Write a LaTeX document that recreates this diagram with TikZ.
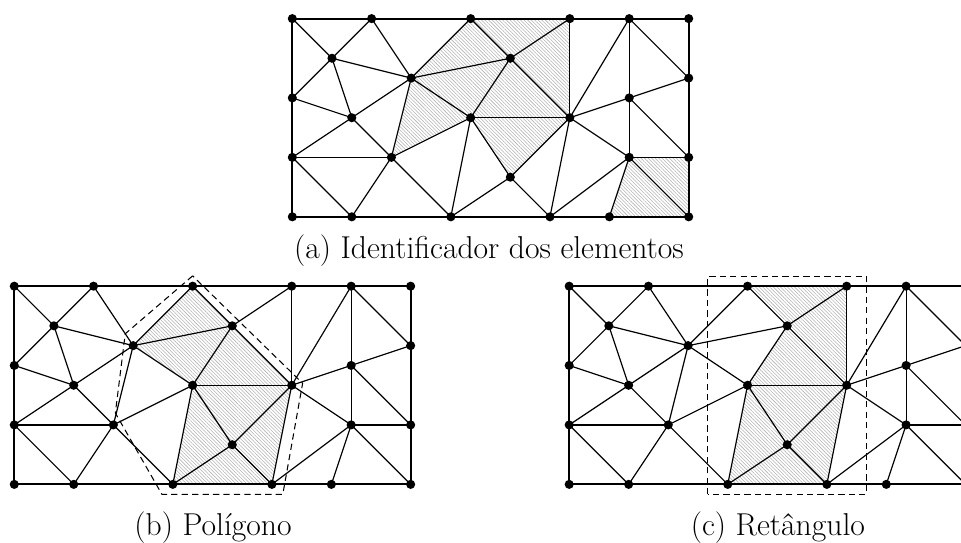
\documentclass[tikz,border=0pt]{standalone}
\usetikzlibrary{patterns.meta}
\tikzset{
  edge/.style={line width=0.85pt, black},
  bnd/.style={line width=1.35pt, black},
  hatch/.style={pattern={Lines[angle=-45,distance=1.8pt,line width=0.4pt]}, pattern color=gray!60},
  dashbox/.style={line width=0.75pt, dash pattern=on 4.5pt off 3pt},
  vdot/.style={fill=black},
  caption/.style={anchor=base, inner sep=0pt, font=\fontsize{22.7}{26}\selectfont}
}
\newcommand\meshcoords[1]{%
  \coordinate (#1-t0) at (0,10);  \coordinate (#1-t4) at (4,10);
  \coordinate (#1-t9) at (9,10);  \coordinate (#1-t14) at (14,10);
  \coordinate (#1-t17) at (17,10);\coordinate (#1-t20) at (20,10);
  \coordinate (#1-a) at (2,8);    \coordinate (#1-b) at (6,7);
  \coordinate (#1-c) at (11,8);   \coordinate (#1-r7) at (20,7);
  \coordinate (#1-l6) at (0,6);   \coordinate (#1-d) at (3,5);
  \coordinate (#1-e) at (9,5);    \coordinate (#1-f) at (14,5);
  \coordinate (#1-g) at (17,6);   \coordinate (#1-l3) at (0,3);
  \coordinate (#1-h) at (5,3);    \coordinate (#1-i) at (17,3);
  \coordinate (#1-r3) at (20,3);  \coordinate (#1-j) at (11,2);
  \coordinate (#1-b0) at (0,0);   \coordinate (#1-b3) at (3,0);
  \coordinate (#1-b8) at (8,0);   \coordinate (#1-b13) at (13,0);
  \coordinate (#1-b16) at (16,0); \coordinate (#1-b20) at (20,0);
}
\newcommand\meshtri[4]{\fill[hatch] (#1-#2) -- (#1-#3) -- (#1-#4) -- cycle;}
\newcommand\meshdraw[1]{%
  \foreach \u/\v in {t0/a, t4/a, t4/b, a/b, a/l6, a/d, l6/d, b/d, b/t9, b/c, b/e, b/h,
    t9/c, c/t14, c/e, c/f, t14/f, e/f, e/h, e/j, e/b8, f/j, f/b13, f/t17, f/g, f/i,
    t17/g, g/i, t17/r7, g/r7, g/r3, i/r3, i/b16, i/b20, i/b13, d/l3, d/h, l3/h, l3/b3,
    h/b3, h/b8, j/b8, j/b13}
    {\draw[edge] (#1-\u) -- (#1-\v);}
  \draw[bnd] (#1-b0) rectangle (#1-t20);
}
\newcommand\meshdots[1]{%
  \foreach \p in {t0,t4,t9,t14,t17,t20,a,b,c,r7,l6,d,e,f,g,l3,h,i,r3,j,b0,b3,b8,b13,b16,b20}
    {\fill[vdot] (#1-\p) circle (0.23);}
}
\begin{document}
\begin{tikzpicture}[x=0.5cm,y=0.5cm]
\clip (0,0) rectangle (48.49,27.35);
% (a)
\begin{scope}[shift={(14.75,16.41)}]
  \meshcoords{A}
\end{scope}
\meshtri{A}{b}{t9}{c}
\meshtri{A}{t9}{t14}{c}
\meshtri{A}{c}{t14}{f}
\meshtri{A}{b}{c}{e}
\meshtri{A}{c}{f}{e}
\meshtri{A}{b}{e}{h}
\meshtri{A}{e}{f}{j}
\meshtri{A}{i}{r3}{b20}
\meshtri{A}{i}{b16}{b20}
\meshdraw{A}
\meshdots{A}
\node[caption] (capA) at (24.67,14.31) {(a) Identificador dos elementos};
% (b)
\begin{scope}[shift={(0.72,2.91)}]
  \meshcoords{B}
  \coordinate (B-p1) at (9,10.52);
  \coordinate (B-p2) at (5.6,7.6);
  \coordinate (B-p3) at (5.1,3.6);
  \coordinate (B-p4) at (7.45,-0.5);
  \coordinate (B-p5) at (13.55,-0.5);
  \coordinate (B-p6) at (14.55,5.1);
\end{scope}
\meshtri{B}{b}{t9}{c}
\meshtri{B}{b}{c}{e}
\meshtri{B}{c}{f}{e}
\meshtri{B}{e}{f}{j}
\meshtri{B}{e}{j}{b8}
\meshtri{B}{j}{b8}{b13}
\meshtri{B}{j}{b13}{f}
\meshdraw{B}
\draw[dashbox] (B-p1) -- (B-p2) -- (B-p3) -- (B-p4) -- (B-p5) -- (B-p6) -- cycle;
\meshdots{B}
\node[caption] (capB) at (10.75,0.353) {(b) Polígono};
% (c)
\begin{scope}[shift={(28.72,2.91)}]
  \meshcoords{C}
  \coordinate (C-r1) at (7,-0.5);
  \coordinate (C-r2) at (15,10.5);
\end{scope}
\meshtri{C}{t9}{t14}{c}
\meshtri{C}{c}{t14}{f}
\meshtri{C}{c}{f}{e}
\meshtri{C}{e}{f}{j}
\meshtri{C}{e}{j}{b8}
\meshtri{C}{j}{b8}{b13}
\meshtri{C}{j}{b13}{f}
\meshdraw{C}
\draw[dashbox] (C-r1) rectangle (C-r2);
\meshdots{C}
\node[caption] (capC) at (39.25,0.353) {(c) Retângulo};
\end{tikzpicture}
\end{document}
